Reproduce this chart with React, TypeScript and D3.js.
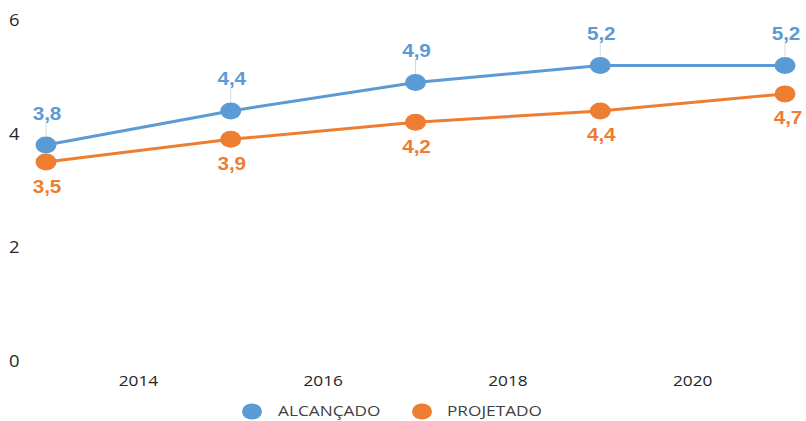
import React from "react";
import * as d3 from "d3";

const years = [2013, 2015, 2017, 2019, 2021];
const alcancado = [3.8, 4.4, 4.9, 5.2, 5.2];
const projetado = [3.5, 3.9, 4.2, 4.4, 4.7];
const xTicks = [2014, 2016, 2018, 2020];
const yTicks = [0, 2, 4, 6];
const seriesNames = ["ALCANÇADO", "PROJETADO"];

const W = 806;
const H = 421;
const BLUE = "#5B9BD5";
const ORANGE = "#ED7D31";
const S = 1.15;
const fmt = (v: number) => v.toFixed(1).replace(".", ",");

export default function App() {
  const x = d3.scaleLinear().domain([2013, 2021]).range([46, 785]);
  const y = d3.scaleLinear().domain([0, 6]).range([361, 20]);
  const line = d3
    .line<number>()
    .x((_, i) => x(years[i]))
    .y((d) => y(d));

  const txt = (
    key: string,
    tx: number,
    ty: number,
    s: string,
    opts: { size: number; weight?: string; fill: string; anchor?: string; family?: string }
  ) => (
    <text
      key={key}
      transform={`translate(${tx},${ty}) scale(${S},1)`}
      fontSize={opts.size}
      fontWeight={opts.weight || "normal"}
      fill={opts.fill}
      textAnchor={opts.anchor || "middle"}
      dominantBaseline="central"
      fontFamily={opts.family || "'Open Sans', sans-serif"}
    >
      {s}
    </text>
  );

  return (
    <svg
      width={W}
      height={H}
      style={{ position: "absolute", left: 0, top: 0, background: "#fff" }}
    >
      {yTicks.map((t) =>
        txt("y" + t, 9, y(t), String(t), { size: 16, fill: "#262626", anchor: "start" })
      )}
      {xTicks.map((t) =>
        txt("x" + t, x(t), 380, String(t), { size: 15, fill: "#262626" })
      )}

      <path d={line(alcancado) || ""} fill="none" stroke={BLUE} strokeWidth={3} />
      <path d={line(projetado) || ""} fill="none" stroke={ORANGE} strokeWidth={3} />

      {alcancado.map((v, i) => (
        <line
          key={"ll" + i}
          x1={x(years[i])}
          x2={x(years[i])}
          y1={y(v) - 23}
          y2={y(v) - 9}
          stroke="#d9d9d9"
          strokeWidth={1}
        />
      ))}

      {alcancado.map((v, i) => (
        <ellipse key={"ba" + i} cx={x(years[i])} cy={y(v)} rx={10.5} ry={8.5} fill={BLUE} />
      ))}
      {projetado.map((v, i) => (
        <ellipse key={"bo" + i} cx={x(years[i])} cy={y(v)} rx={10.5} ry={8.5} fill={ORANGE} />
      ))}

      {alcancado.map((v, i) =>
        txt("la" + i, x(years[i]) + 1, y(v) - 32, fmt(v), {
          size: 18,
          weight: "bold",
          fill: BLUE,
          family: "'Liberation Sans', Arial, sans-serif",
        })
      )}
      {projetado.map((v, i) =>
        txt("lo" + i, x(years[i]) + (i === years.length - 1 ? 3 : 1), y(v) + 24, fmt(v), {
          size: 18,
          weight: "bold",
          fill: ORANGE,
          family: "'Liberation Sans', Arial, sans-serif",
        })
      )}

      <ellipse cx={252} cy={411.5} rx={10} ry={8} fill={BLUE} />
      {txt("lg0", 278, 410.5, seriesNames[0], { size: 15, fill: "#404040", anchor: "start" })}
      <ellipse cx={422} cy={411.5} rx={10} ry={8} fill={ORANGE} />
      {txt("lg1", 447, 410.5, seriesNames[1], { size: 15, fill: "#404040", anchor: "start" })}
    </svg>
  );
}
